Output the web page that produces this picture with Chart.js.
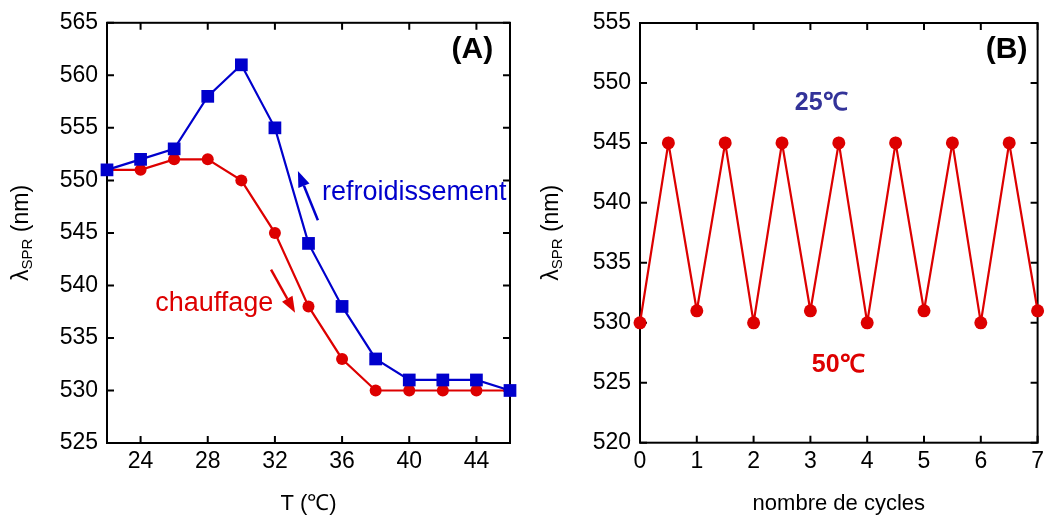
<!DOCTYPE html>
<html>
<head>
<meta charset="utf-8">
<script src="https://cdn.jsdelivr.net/npm/chart.js@4/dist/chart.umd.min.js"></script>
<style>
  body { margin: 0; background: #fff; }
  .panel { position: absolute; top: 0; }
</style>
</head>
<body>
<div class="panel" style="left:0"><canvas id="chartA" width="530" height="515"></canvas></div>
<div class="panel" style="left:530px"><canvas id="chartB" width="519" height="515"></canvas></div>
<script>
// panel A : lambda SPR vs temperature
const tempA = [22, 24, 26, 28, 30, 32, 34, 36, 38, 40, 42, 44, 46];
const chauffage = [551, 551, 552, 552, 550, 545, 538, 533, 530, 530, 530, 530, 530];
const refroidissement = [551, 552, 553, 558, 561, 555, 544, 538, 533, 531, 531, 531, 530];
const xTicksA = [24, 28, 32, 36, 40, 44];
const yTicksA = [525, 530, 535, 540, 545, 550, 555, 560, 565];

// panel B : cycling between 25 and 50 C
const cycles = [0, 0.5, 1, 1.5, 2, 2.5, 3, 3.5, 4, 4.5, 5, 5.5, 6, 6.5, 7];
const lambdaCycles = [530, 545, 531, 545, 530, 545, 531, 545, 530, 545, 531, 545, 530, 545, 531];
const xTicksB = [0, 1, 2, 3, 4, 5, 6, 7];
const yTicksB = [520, 525, 530, 535, 540, 545, 550, 555];

const RED = '#dd0000';
const BLUE = '#0000cc';
const FONT = "'Liberation Sans', Arial, sans-serif";

function pts(xs, ys) {
  return xs.map((x, i) => ({x: x, y: ys[i]}));
}

// frame + inward ticks on all four sides, plus the y title with subscript
function framePlugin(xTicks, yTicks) {
  return {
    id: 'frame',
    beforeDatasetsDraw(chart) {
      const {ctx, chartArea: a, scales} = chart;
      ctx.save();
      ctx.strokeStyle = '#000';
      ctx.lineWidth = 2;
      ctx.strokeRect(a.left, a.top, a.right - a.left, a.bottom - a.top);
      ctx.beginPath();
      xTicks.forEach(v => {
        const px = scales.x.getPixelForValue(v);
        ctx.moveTo(px, a.bottom); ctx.lineTo(px, a.bottom - 7);
        ctx.moveTo(px, a.top); ctx.lineTo(px, a.top + 7);
      });
      yTicks.forEach(v => {
        const py = scales.y.getPixelForValue(v);
        ctx.moveTo(a.left, py); ctx.lineTo(a.left + 7, py);
        ctx.moveTo(a.right, py); ctx.lineTo(a.right - 7, py);
      });
      ctx.stroke();
      ctx.restore();
    },
    afterDraw(chart) {
      const {ctx, chartArea: a} = chart;
      const big = '23px ' + FONT, small = '15px ' + FONT;
      ctx.save();
      ctx.translate(22, (a.top + a.bottom) / 2);
      ctx.rotate(-Math.PI / 2);
      ctx.fillStyle = '#000';
      ctx.textBaseline = 'middle';
      ctx.font = big;
      const w1 = ctx.measureText('λ').width;
      const w3 = ctx.measureText(' (nm)').width;
      ctx.font = small;
      const w2 = ctx.measureText('SPR').width;
      let x = -(w1 + w2 + w3) / 2;
      ctx.textAlign = 'left';
      ctx.font = big;
      ctx.fillText('λ', x, 0);
      x += w1;
      ctx.font = small;
      ctx.fillText('SPR', x, 6);
      x += w2;
      ctx.font = big;
      ctx.fillText(' (nm)', x, 0);
      ctx.restore();
    }
  };
}

// text labels and arrows placed in data coordinates
function notesPlugin(texts, arrows) {
  return {
    id: 'notes',
    afterDatasetsDraw(chart) {
      const {ctx, scales} = chart;
      ctx.save();
      texts.forEach(t => {
        ctx.font = t.font;
        ctx.fillStyle = t.color;
        ctx.textAlign = t.align;
        ctx.textBaseline = 'middle';
        ctx.fillText(t.text, scales.x.getPixelForValue(t.x), scales.y.getPixelForValue(t.y));
      });
      arrows.forEach(ar => {
        const x0 = scales.x.getPixelForValue(ar.x0), y0 = scales.y.getPixelForValue(ar.y0);
        const x1 = scales.x.getPixelForValue(ar.x1), y1 = scales.y.getPixelForValue(ar.y1);
        const ang = Math.atan2(y1 - y0, x1 - x0);
        const hl = 16, hw = 6;
        const bx = x1 - hl * Math.cos(ang), by = y1 - hl * Math.sin(ang);
        ctx.strokeStyle = ar.color;
        ctx.fillStyle = ar.color;
        ctx.lineWidth = 2.5;
        ctx.beginPath();
        ctx.moveTo(x0, y0);
        ctx.lineTo(bx, by);
        ctx.stroke();
        ctx.beginPath();
        ctx.moveTo(x1, y1);
        ctx.lineTo(bx + hw * Math.sin(ang), by - hw * Math.cos(ang));
        ctx.lineTo(bx - hw * Math.sin(ang), by + hw * Math.cos(ang));
        ctx.closePath();
        ctx.fill();
      });
      ctx.restore();
    }
  };
}

function makeOptions(o) {
  return {
    responsive: false,
    animation: false,
    devicePixelRatio: 1,
    layout: {padding: o.padding},
    plugins: {legend: {display: false}, tooltip: {enabled: false}},
    scales: {
      x: {
        type: 'linear', min: o.xMin, max: o.xMax,
        afterBuildTicks: s => { s.ticks = o.xTicks.map(v => ({value: v})); },
        afterFit: s => { s.height = o.xHeight; },
        grid: {display: false, drawTicks: false},
        border: {display: false},
        ticks: {font: {family: FONT, size: 23}, color: '#000', padding: 5, maxRotation: 0, autoSkip: false},
        title: {display: true, text: o.xTitle, color: '#000',
                font: {family: FONT, size: 22, lineHeight: 1}, padding: {top: 0, bottom: 0}}
      },
      y: {
        type: 'linear', min: o.yMin, max: o.yMax,
        afterBuildTicks: s => { s.ticks = o.yTicks.map(v => ({value: v})); },
        afterFit: s => { s.width = o.yWidth; },
        grid: {display: false, drawTicks: false},
        border: {display: false},
        ticks: {font: {family: FONT, size: 23}, color: '#000', padding: 9, autoSkip: false}
      }
    }
  };
}

new Chart(document.getElementById('chartA'), {
  type: 'scatter',
  data: {
    datasets: [
      {
        label: 'refroidissement',
        data: pts(tempA, refroidissement),
        showLine: true, borderColor: BLUE, backgroundColor: BLUE, borderWidth: 2.2,
        pointStyle: 'rect', pointRadius: 9, pointBorderWidth: 0, clip: false, order: 0
      },
      {
        label: 'chauffage',
        data: pts(tempA, chauffage),
        showLine: true, borderColor: RED, backgroundColor: RED, borderWidth: 2.2,
        pointStyle: 'circle', pointRadius: 6, pointBorderWidth: 0, clip: false, order: 1
      }
    ]
  },
  options: makeOptions({
    xMin: 22, xMax: 46, yMin: 525, yMax: 565,
    xTicks: xTicksA, yTicks: yTicksA, xTitle: 'T (℃)',
    padding: {left: 0, right: 20, top: 22, bottom: 0}, xHeight: 72, yWidth: 107
  }),
  plugins: [
    framePlugin(xTicksA, yTicksA),
    notesPlugin([
      {text: '(A)', x: 45.0, y: 562.4, align: 'right', font: 'bold 30px ' + FONT, color: '#000'},
      {text: 'refroidissement', x: 34.8, y: 548.8, align: 'left', font: '27px ' + FONT, color: BLUE},
      {text: 'chauffage', x: 24.87, y: 538.3, align: 'left', font: '27px ' + FONT, color: RED}
    ], [
      {x0: 34.56, y0: 546.2, x1: 33.37, y1: 550.9, color: BLUE},
      {x0: 31.77, y0: 541.5, x1: 33.2, y1: 537.4, color: RED}
    ])
  ]
});

new Chart(document.getElementById('chartB'), {
  type: 'scatter',
  data: {
    datasets: [{
      label: 'cycles',
      data: pts(cycles, lambdaCycles),
      showLine: true, borderColor: RED, backgroundColor: RED, borderWidth: 2.2,
      pointStyle: 'circle', pointRadius: 6.5, pointBorderWidth: 0, clip: false
    }]
  },
  options: makeOptions({
    xMin: 0, xMax: 7, yMin: 520, yMax: 555,
    xTicks: xTicksB, yTicks: yTicksB, xTitle: 'nombre de cycles',
    padding: {left: 0, right: 6.7, top: 23, bottom: 0}, xHeight: 72.3, yWidth: 110
  }),
  plugins: [
    framePlugin(xTicksB, yTicksB),
    notesPlugin([
      {text: '(B)', x: 6.82, y: 552.75, align: 'right', font: 'bold 30px ' + FONT, color: '#000'},
      {text: '25℃', x: 3.19, y: 548.3, align: 'center', font: 'bold 25px ' + FONT, color: '#333399'},
      {text: '50℃', x: 3.49, y: 526.5, align: 'center', font: 'bold 25px ' + FONT, color: RED}
    ], [])
  ]
});
</script>
</body>
</html>
